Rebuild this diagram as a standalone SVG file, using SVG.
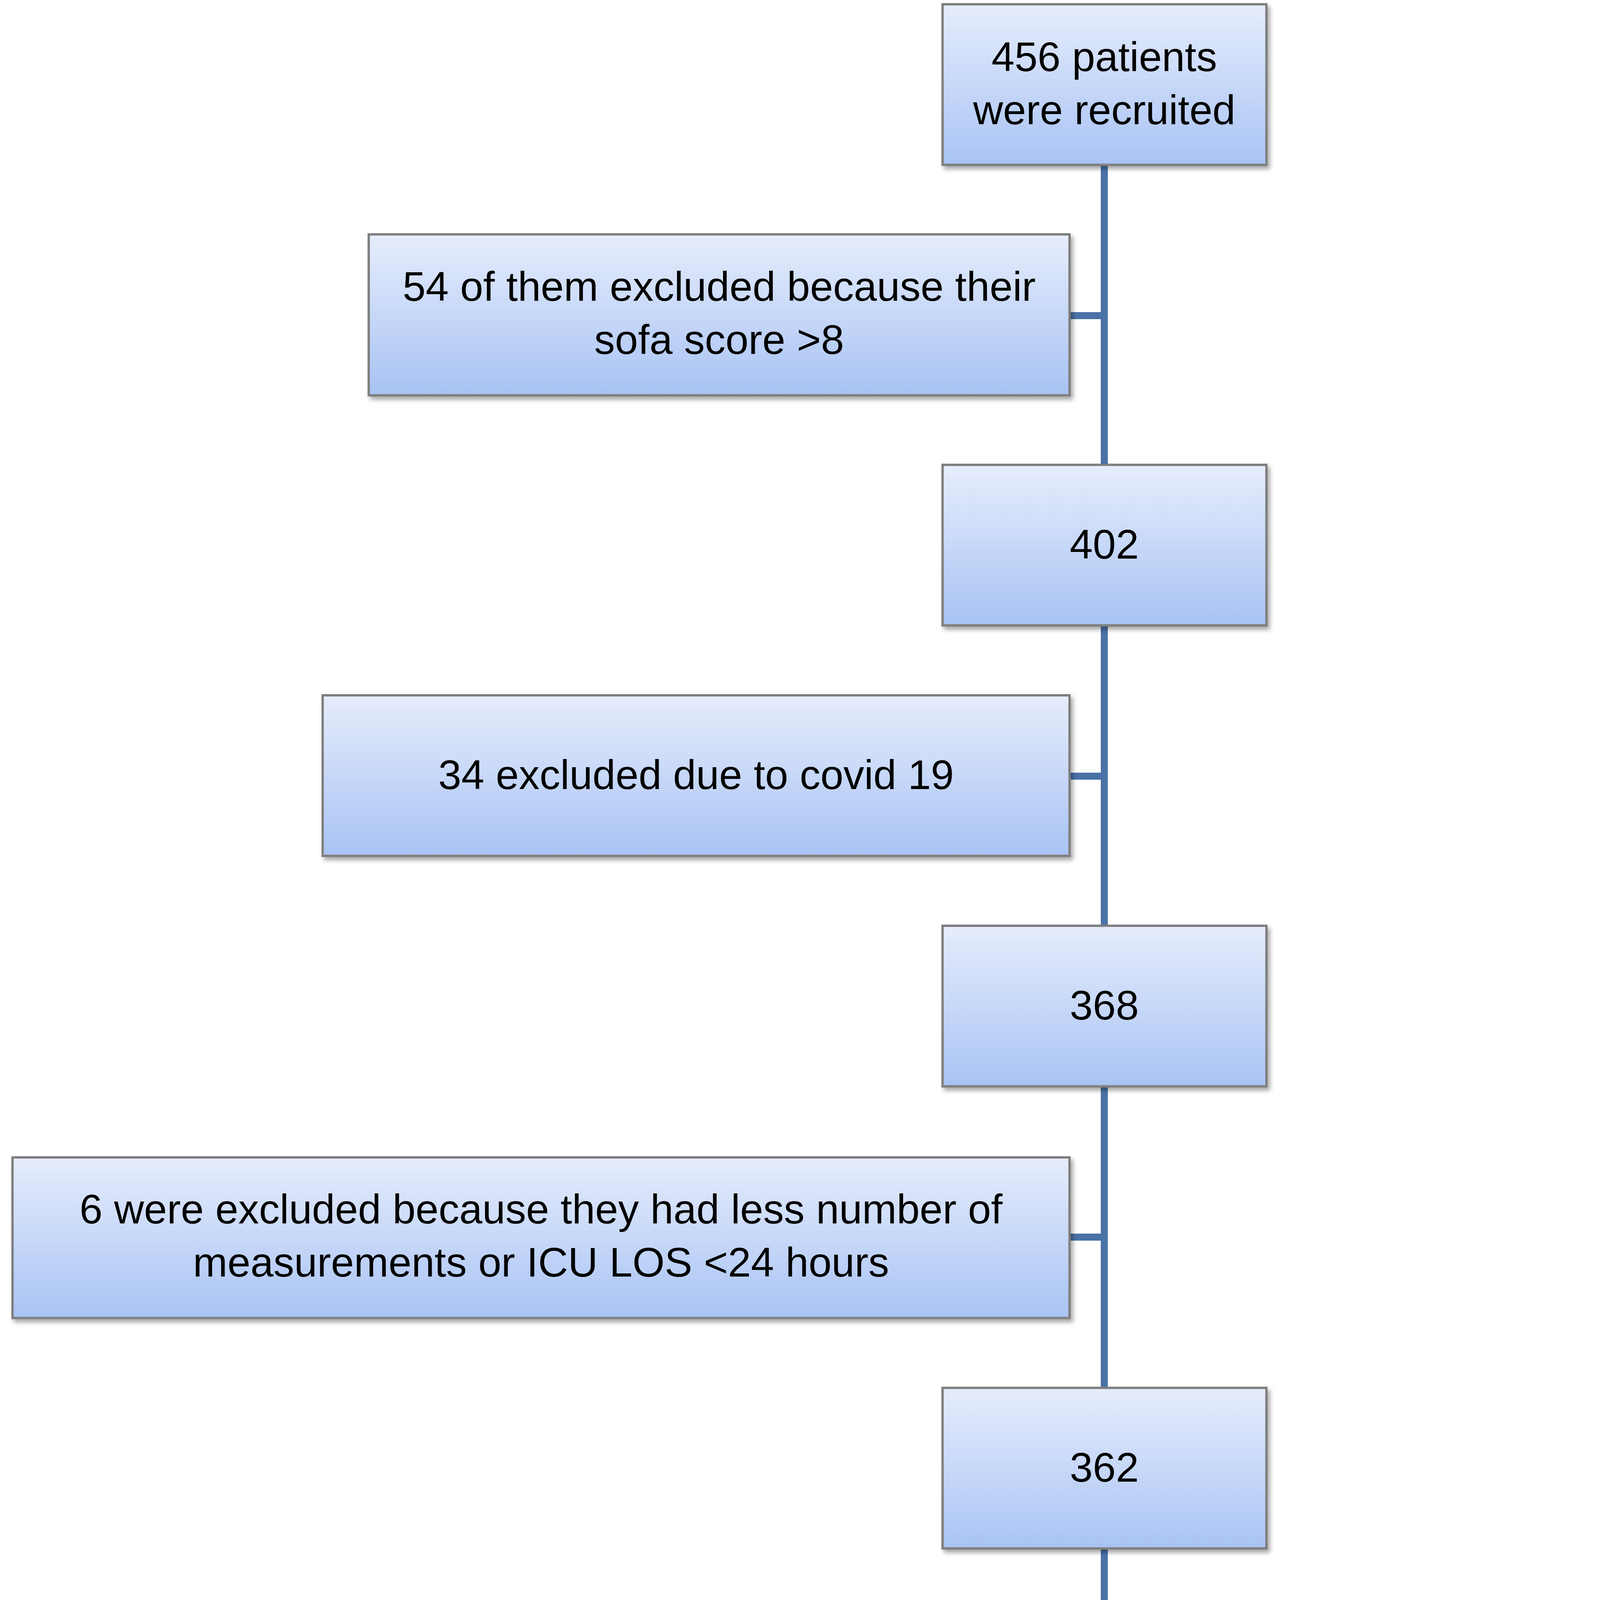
<svg xmlns="http://www.w3.org/2000/svg" width="4486" height="5605" viewBox="0 0 4486 5605">
<defs>
<linearGradient id="g" x1="0" y1="0" x2="0" y2="1">
<stop offset="0" stop-color="#e6edfc"/><stop offset="1" stop-color="#a8c3f4"/>
</linearGradient>
<filter id="sh" x="-5%" y="-5%" width="110%" height="120%"><feDropShadow dx="6" dy="8" stdDeviation="6" flood-color="#000" flood-opacity="0.35"/></filter>
</defs>
<style>
.b{fill:url(#g);stroke:#808080;stroke-width:6;filter:url(#sh)}
.t{font-family:"Liberation Sans",Arial,sans-serif;font-size:106px;fill:#000;text-anchor:middle}
.c{stroke:#4a72a8;stroke-width:18;fill:none}
</style>
<rect width="4486" height="5605" fill="#fff"/>
<g id="connectors">
<path class="c" d="M2827 422V5158H2953"/>
<path class="c" d="M2738 808H2827M2738 1987H2827M2738 3167H2827M2738 4347H2827"/>
</g>
<g id="n1"><rect class="b" x="2413" y="11" width="829" height="411"/><text class="t" x="2827" y="182">456 patients</text><text class="t" x="2827" y="318">were recruited</text></g>
<g id="n2"><rect class="b" x="944" y="600" width="1794" height="412"/><text class="t" x="1841" y="770">54 of them excluded because their</text><text class="t" x="1841" y="906">sofa score &gt;8</text></g>
<g id="n3"><rect class="b" x="2413" y="1190" width="829" height="411"/><text class="t" x="2827" y="1430">402</text></g>
<g id="n4"><rect class="b" x="826" y="1780" width="1912" height="411"/><text class="t" x="1782" y="2020">34 excluded due to covid 19</text></g>
<g id="n5"><rect class="b" x="2413" y="2370" width="829" height="411"/><text class="t" x="2827" y="2610">368</text></g>
<g id="n6"><rect class="b" x="32" y="2963" width="2706" height="411"/><text class="t" x="1385" y="3132">6 were excluded because they had less number of</text><text class="t" x="1385" y="3268">measurements or ICU LOS &lt;24 hours</text></g>
<g id="n7"><rect class="b" x="2413" y="3553" width="829" height="411"/><text class="t" x="2827" y="3793">362</text></g>
<g id="n8"><rect class="b" x="18" y="4143" width="2720" height="411"/><text class="t" x="1378" y="4312">4 were excluded because they were under the age of</text><text class="t" x="1378" y="4448">18</text></g>
<g id="n9"><rect class="b" x="2953" y="4733" width="1530" height="854"/><text class="t" x="3720" y="5124">358 patients met the criteria</text><text class="t" x="3720" y="5260">and included the study</text></g>
</svg>
